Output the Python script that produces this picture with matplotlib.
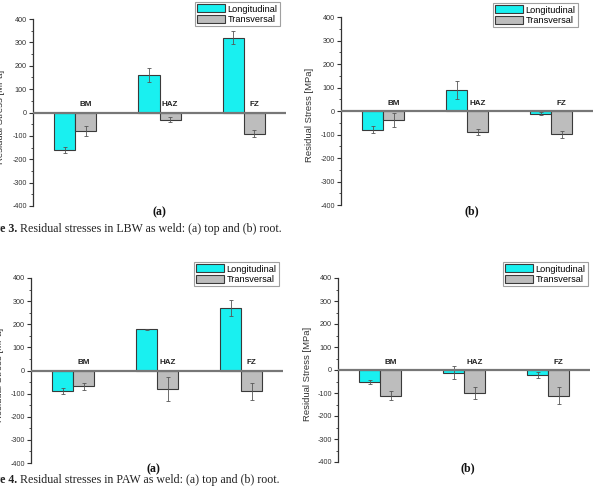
import numpy as np
import matplotlib
matplotlib.use("Agg")
import matplotlib.pyplot as plt

W, H = 594, 499

categories = ["BM", "HAZ", "FZ"]
series_names = ["Longitudinal", "Transversal"]

# LBW top (a) / root (b)
lbw_top_long = [-160, 160, 320]
lbw_top_long_err = [12, 30, 27]
lbw_top_trans = [-80, -30, -90]
lbw_top_trans_err = [22, 12, 13]

lbw_root_long = [-80, 89, -12]
lbw_root_long_err = [15, 39, 7]
lbw_root_trans = [-40, -90, -99]
lbw_root_trans_err = [30, 12, 15]

# PAW top (a) / root (b)
paw_top_long = [-90, 179, 271]
paw_top_long_err = [13, 2, 35]
paw_top_trans = [-69, -80, -90]
paw_top_trans_err = [15, 50, 38]

paw_root_long = [-52, -11, -22]
paw_root_long_err = [9, 27, 12]
paw_root_trans = [-111, -101, -111]
paw_root_trans_err = [19, 27, 36]

CYAN = "#19f0f0"
GRAY = "#bdbdbd"
EDGE = "#3a3a3a"
SANS = "Liberation Sans"
SERIF = "Liberation Serif"

fig = plt.figure(figsize=(W / 100, H / 100), dpi=100)
fig.patch.set_facecolor("white")


def px(x, y):
    return x / W, 1 - y / H


def panel(left, top, right, bottom, long, long_err, trans, trans_err,
          legend_box, letter, letter_x, label_x):
    ax = fig.add_axes([left / W, 1 - bottom / H, (right - left) / W, (bottom - top) / H])
    x = np.arange(1, len(categories) + 1)
    w = 0.25
    ek = dict(ecolor="#555555", elinewidth=0.6, capsize=1.5, capthick=0.6)
    b1 = ax.bar(x - w / 2, long, w, yerr=long_err, color=CYAN, edgecolor=EDGE,
                linewidth=0.8, error_kw=ek, label=series_names[0], zorder=2)
    b2 = ax.bar(x + w / 2, trans, w, yerr=trans_err, color=GRAY, edgecolor=EDGE,
                linewidth=0.8, error_kw=ek, label=series_names[1], zorder=2)
    ax.axhline(0, color="#777777", lw=1.6, zorder=3)
    for xi, c in zip(x, categories):
        ax.text(xi + w / 2, 18, c, ha="center", va="bottom", fontsize=5.8,
                fontweight="bold", family=SANS, color="#222222")
    ax.set_xlim(0.5, 3.5)
    ax.set_ylim(-400, 400)
    ax.set_yticks(np.arange(-400, 401, 100))
    ax.set_yticks(np.arange(-400, 401, 50), minor=True)
    ax.set_yticklabels([str(v) for v in range(-400, 401, 100)])
    ax.set_xticks([])
    for s in ["top", "right", "bottom"]:
        ax.spines[s].set_visible(False)
    ax.spines["left"].set_color("#333333")
    ax.spines["left"].set_linewidth(0.9)
    ax.tick_params(axis="y", which="major", length=3, width=0.8, labelsize=5.2,
                   colors="#333333", pad=1.5)
    ax.tick_params(axis="y", which="minor", length=1.8, width=0.6, colors="#333333")
    for t in ax.get_yticklabels():
        t.set_family(SANS)
    ax.patch.set_alpha(0)

    lx0, ly0, lx1, ly1 = legend_box
    leg = ax.legend(handles=[b1, b2], loc="upper right",
                    bbox_to_anchor=px(lx1, ly0), bbox_transform=fig.transFigure,
                    prop={"family": SANS, "size": 6.6}, frameon=True, fancybox=False,
                    edgecolor="#888888", handlelength=3.0, handleheight=1.0,
                    handletextpad=0.3, borderpad=0.25, labelspacing=0.12,
                    borderaxespad=0)
    leg.get_frame().set_linewidth(0.8)

    fig.text(*px(letter_x, bottom + 6), letter, ha="center", va="center",
             fontsize=8.5, fontweight="bold", family=SERIF, color="#111111")
    fig.text(*px(label_x, (top + bottom) / 2 + 4), "Residual Stress [MPa]",
             rotation=90, ha="center", va="center", fontsize=6.8, family=SANS,
             color="#333333")
    return ax


panel(33, 19, 286, 206, lbw_top_long, lbw_top_long_err, lbw_top_trans, lbw_top_trans_err,
      (204, 2, 280, 24), "(a)", 159, 1)
panel(341, 17, 593, 205, lbw_root_long, lbw_root_long_err, lbw_root_trans, lbw_root_trans_err,
      (500, 3, 578, 26), "(b)", 472, 310)
panel(31, 278, 283, 463, paw_top_long, paw_top_long_err, paw_top_trans, paw_top_trans_err,
      (200, 262, 279, 284), "(a)", 153, 0)
panel(338, 278, 590, 462, paw_root_long, paw_root_long_err, paw_root_trans, paw_root_trans_err,
      (508, 262, 588, 283), "(b)", 468, 307)

# captions (the "Figur" part runs off the left edge as in the source page)
for yy, num, rest in [(229, "Figure 3.", "Residual stresses in LBW as weld: (a) top and (b) root."),
                      (480, "Figure 4.", "Residual stresses in PAW as weld: (a) top and (b) root.")]:
    fig.text(*px(17, yy), num, ha="right", va="center", fontsize=8.6,
             fontweight="bold", family=SERIF, color="#222222")
    fig.text(*px(20, yy), rest, ha="left", va="center", fontsize=8.6,
             family=SERIF, color="#222222")

fig.savefig("out.png", dpi=100)
